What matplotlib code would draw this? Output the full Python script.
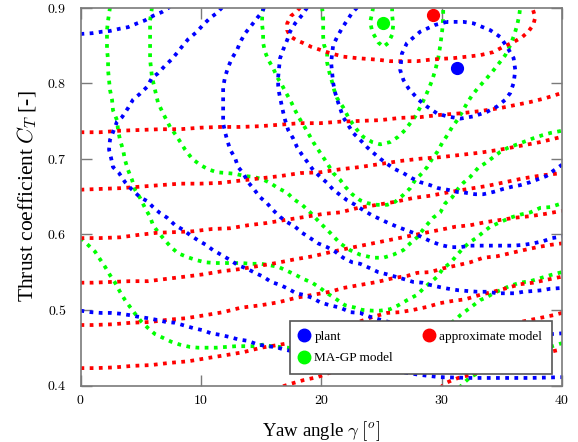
import matplotlib
matplotlib.use("Agg")
import matplotlib.pyplot as plt
from matplotlib.lines import Line2D

plt.rcParams['font.family'] = ['Liberation Serif', 'DejaVu Serif']
plt.rcParams['mathtext.fontset'] = 'cm'

# ---------------- data ----------------
x_ticks = [0, 10, 20, 30, 40]
x_tick_labels = ['$0$', '$10$', '$20$', '$30$', '$40$']
y_ticks = [0.4, 0.5, 0.6, 0.7, 0.8, 0.9]
y_tick_labels = ['$0.4$', '$0.5$', '$0.6$', '$0.7$', '$0.8$', '$0.9$']

series_names = ['plant', 'approximate model', 'MA-GP model']

# optimum points (yaw angle, thrust coefficient)
plant_opt = (31.25, 0.820)
approx_opt = (29.25, 0.890)
magp_opt = (25.1, 0.8795)

# ---- plant contours (blue) ----
plant_c1_yaw = [30.44, 29.47, 28.22, 27.12, 26.70, 26.56, 26.83, 27.25, 28.08, 28.78, 29.61, 30.44, 31.55, 32.65,
                33.77, 34.60, 35.29, 35.70, 35.98, 36.12, 35.98, 35.43, 34.87, 34.04, 32.65, 31.82, 30.44]
plant_c1_ct = [0.881, 0.877, 0.868, 0.853, 0.839, 0.817, 0.804, 0.793, 0.778, 0.769, 0.760, 0.756, 0.753, 0.756,
               0.762, 0.769, 0.778, 0.787, 0.800, 0.817, 0.833, 0.848, 0.861, 0.870, 0.879, 0.881, 0.881]

plant_c2_yaw = [0.0, 0.96, 1.79, 2.45, 3.28, 3.95, 4.70, 5.36, 6.03, 6.77, 7.27, 7.40]
plant_c2_ct = [0.865, 0.866, 0.868, 0.869, 0.872, 0.874, 0.879, 0.883, 0.889, 0.894, 0.899, 0.901]

plant_c3_yaw = [15.25, 15.09, 14.67, 14.09, 13.68, 13.26, 13.01, 12.59, 12.26, 12.01, 11.85, 11.85, 11.85, 11.85,
                11.85, 12.01, 12.18, 12.43, 12.84, 13.09, 13.51, 13.92, 14.34, 14.92, 15.50, 16.00, 16.58, 17.17,
                17.83, 18.41, 19.08, 19.74, 20.49, 21.16, 21.82, 22.57, 23.23, 24.07, 24.73, 25.48, 26.14, 26.81,
                27.64, 28.39, 29.05, 29.89, 30.55, 31.38, 32.13, 32.96, 33.79, 34.62, 35.29, 36.12, 36.78, 37.61,
                38.36, 39.03, 40.0]
plant_c3_ct = [0.900, 0.894, 0.886, 0.874, 0.866, 0.854, 0.844, 0.833, 0.821, 0.808, 0.795, 0.784, 0.771, 0.760,
               0.747, 0.735, 0.725, 0.712, 0.701, 0.689, 0.681, 0.669, 0.661, 0.649, 0.641, 0.632, 0.623, 0.616,
               0.610, 0.602, 0.595, 0.588, 0.583, 0.577, 0.569, 0.563, 0.561, 0.555, 0.550, 0.547, 0.544, 0.541,
               0.537, 0.536, 0.533, 0.530, 0.528, 0.526, 0.525, 0.524, 0.524, 0.522, 0.522, 0.522, 0.524, 0.525,
               0.526, 0.528, 0.529]

plant_c4_yaw = [22.98, 22.57, 22.15, 21.74, 21.32, 20.99, 20.91, 20.82, 20.91, 20.99, 21.16, 21.41, 21.82, 22.65,
                23.23, 23.82, 24.31, 24.90, 25.48, 26.14, 26.81, 27.56, 28.22, 29.05, 29.72, 30.47, 31.30, 31.96,
                32.79, 33.46, 34.29, 35.12, 35.87, 36.53, 37.37, 38.03, 38.70, 39.28, 40.0]
plant_c4_ct = [0.900, 0.893, 0.883, 0.873, 0.861, 0.850, 0.840, 0.827, 0.813, 0.800, 0.787, 0.774, 0.755, 0.734,
               0.725, 0.715, 0.708, 0.700, 0.693, 0.686, 0.681, 0.674, 0.669, 0.665, 0.661, 0.659, 0.656, 0.655,
               0.653, 0.653, 0.656, 0.660, 0.663, 0.665, 0.669, 0.673, 0.677, 0.684, 0.692]

plant_c5_yaw = [18.83, 18.41, 17.83, 17.41, 17.17, 16.83, 16.58, 16.50, 16.42, 16.42, 16.50, 16.67, 16.83, 17.00,
                17.25, 17.66, 18.00, 18.41, 18.83, 19.33, 19.91, 20.49, 20.99, 21.57, 22.15, 22.82, 23.48, 24.23,
                24.90, 25.56, 26.31, 26.97, 27.64, 28.39, 29.05, 29.89, 30.72, 31.55, 32.38, 33.21, 34.04, 35.12,
                35.95, 36.78, 37.61, 38.45, 39.19, 40.0]
plant_c5_ct = [0.900, 0.890, 0.879, 0.868, 0.857, 0.844, 0.833, 0.821, 0.808, 0.797, 0.787, 0.774, 0.762, 0.751,
               0.738, 0.727, 0.715, 0.705, 0.696, 0.685, 0.676, 0.668, 0.659, 0.652, 0.645, 0.639, 0.632, 0.625,
               0.620, 0.615, 0.610, 0.606, 0.602, 0.596, 0.591, 0.586, 0.583, 0.583, 0.585, 0.585, 0.585, 0.585,
               0.585, 0.586, 0.588, 0.591, 0.595, 0.597]

plant_c6_yaw = [11.76, 11.35, 10.76, 10.18, 9.68, 8.94, 8.52, 8.02, 7.61, 7.02, 6.44, 5.94, 5.53, 4.95, 4.36,
                3.95, 3.45, 3.03, 2.70, 2.45, 2.37, 2.54, 2.70, 3.20, 3.70, 4.28, 4.95, 5.53, 6.03, 6.61, 7.19,
                7.86, 8.52, 9.10, 9.77, 10.43, 11.01, 11.68, 12.43, 13.09, 13.76, 14.50, 15.17, 15.84, 16.58,
                17.25, 17.91, 18.50, 19.24, 19.91, 20.74, 21.57, 22.40, 23.23, 23.82, 24.90, 26.56, 28.22, 29.89,
                31.55, 33.21, 34.87, 36.53, 38.20, 40.0]
plant_c6_ct = [0.900, 0.893, 0.886, 0.877, 0.868, 0.858, 0.850, 0.840, 0.832, 0.823, 0.813, 0.807, 0.795, 0.786,
               0.778, 0.767, 0.755, 0.749, 0.735, 0.725, 0.712, 0.701, 0.689, 0.681, 0.669, 0.659, 0.649, 0.644,
               0.636, 0.628, 0.622, 0.612, 0.606, 0.599, 0.592, 0.586, 0.579, 0.573, 0.566, 0.559, 0.555, 0.549,
               0.544, 0.537, 0.533, 0.528, 0.522, 0.520, 0.516, 0.510, 0.506, 0.503, 0.497, 0.496, 0.492, 0.487,
               0.480, 0.475, 0.471, 0.468, 0.465, 0.465, 0.465, 0.467, 0.469]

plant_c7_yaw = [0.0, 0.87, 1.70, 2.54, 3.28, 4.11, 4.78, 5.61, 6.28, 7.11, 7.86, 8.69, 9.35, 10.18, 10.85, 11.60,
                12.43, 13.09, 13.92, 14.59, 15.42, 16.17, 16.83, 18.25, 20.74, 23.23, 25.73, 28.22, 29.89, 32.38,
                34.87, 37.37, 40.0]
plant_c7_ct = [0.499, 0.497, 0.496, 0.496, 0.495, 0.493, 0.491, 0.489, 0.487, 0.484, 0.483, 0.479, 0.476, 0.473,
               0.469, 0.467, 0.464, 0.461, 0.459, 0.455, 0.452, 0.451, 0.448, 0.443, 0.434, 0.426, 0.420, 0.414,
               0.411, 0.410, 0.410, 0.410, 0.411]

# ---- approximate model contours (red) ----
approx_c1_yaw = [18.25, 17.91, 17.50, 17.17, 17.17, 17.41, 17.91, 18.50, 19.16, 19.91, 20.66, 21.82, 22.98, 23.82,
                 24.65, 25.73, 26.81, 27.97, 29.05, 29.89, 30.96, 32.13, 33.21, 34.29, 35.12, 35.95, 36.70, 37.20,
                 37.61, 37.78, 37.53]
approx_c1_ct = [0.900, 0.894, 0.889, 0.879, 0.870, 0.862, 0.857, 0.853, 0.848, 0.844, 0.840, 0.835, 0.833, 0.832,
                0.831, 0.829, 0.829, 0.829, 0.831, 0.832, 0.833, 0.835, 0.837, 0.841, 0.848, 0.854, 0.861, 0.868,
                0.877, 0.887, 0.900]

approx_c2_yaw = [0.0, 1.62, 3.28, 4.95, 6.61, 8.27, 9.93, 11.60, 13.26, 14.92, 16.58, 18.25, 19.91, 21.57, 23.23,
                 24.90, 26.56, 28.22, 29.89, 31.55, 33.21, 34.87, 36.12, 37.37, 38.61, 40.0]
approx_c2_ct = [0.735, 0.735, 0.737, 0.738, 0.739, 0.739, 0.741, 0.742, 0.742, 0.743, 0.745, 0.747, 0.747, 0.749,
                0.750, 0.751, 0.754, 0.755, 0.758, 0.760, 0.763, 0.767, 0.771, 0.775, 0.780, 0.787]

approx_c3_yaw = [0.0, 1.62, 3.28, 4.95, 6.61, 8.27, 9.93, 11.60, 13.26, 14.92, 16.58, 18.25, 19.91, 21.57, 23.23,
                 24.90, 26.56, 28.22, 29.89, 31.55, 33.21, 34.87, 36.53, 38.20, 40.0]
approx_c3_ct = [0.659, 0.660, 0.661, 0.663, 0.665, 0.667, 0.667, 0.668, 0.671, 0.674, 0.677, 0.681, 0.682, 0.686,
                0.689, 0.693, 0.697, 0.700, 0.702, 0.705, 0.708, 0.712, 0.717, 0.722, 0.729]

approx_c4_yaw = [0.0, 1.62, 3.28, 4.70, 6.36, 8.02, 9.35, 10.93, 12.43, 13.92, 15.50, 17.00, 18.66, 20.16, 21.57,
                 23.07, 24.65, 26.14, 27.64, 29.05, 30.72, 32.21, 33.79, 35.29, 36.78, 38.36, 40.0]
approx_c4_ct = [0.595, 0.595, 0.596, 0.599, 0.602, 0.603, 0.604, 0.607, 0.608, 0.612, 0.615, 0.619, 0.623, 0.627,
                0.629, 0.635, 0.639, 0.643, 0.648, 0.651, 0.656, 0.660, 0.664, 0.669, 0.674, 0.678, 0.681]

approx_c5_yaw = [0.0, 1.04, 2.54, 4.11, 5.61, 7.11, 8.69, 10.18, 11.68, 13.26, 14.75, 16.25, 17.83, 19.33, 20.91,
                 22.40, 23.65, 24.90, 26.14, 27.39, 28.64, 29.89, 31.13, 32.38, 33.62, 34.87, 36.12, 37.37, 38.61,
                 40.0]
approx_c5_ct = [0.536, 0.536, 0.537, 0.538, 0.538, 0.541, 0.544, 0.547, 0.551, 0.554, 0.558, 0.562, 0.567, 0.571,
                0.577, 0.582, 0.586, 0.590, 0.594, 0.598, 0.602, 0.606, 0.610, 0.612, 0.616, 0.619, 0.622, 0.624,
                0.627, 0.631]

approx_c6_yaw = [0.0, 1.04, 2.70, 4.20, 5.78, 7.27, 8.77, 10.35, 11.85, 13.34, 14.92, 16.42, 17.91, 20.74, 21.82,
                 23.23, 24.65, 25.98, 27.14, 27.97, 29.05, 30.13, 31.30, 32.38, 33.46, 34.62, 35.70, 36.78, 37.95,
                 39.03, 40.0]
approx_c6_ct = [0.480, 0.480, 0.481, 0.483, 0.484, 0.487, 0.489, 0.493, 0.497, 0.503, 0.506, 0.510, 0.516, 0.524,
                0.529, 0.533, 0.537, 0.542, 0.545, 0.549, 0.550, 0.555, 0.559, 0.563, 0.569, 0.571, 0.575, 0.579,
                0.583, 0.586, 0.588]

approx_c7_yaw = [0.0, 1.29, 2.87, 4.36, 5.86, 7.44, 8.94, 10.43, 12.01, 13.51, 15.00, 16.58, 17.25, 19.08, 20.74,
                 22.40, 24.31, 25.48, 26.56, 27.64, 28.80, 29.89, 30.96, 31.96, 33.21, 34.29, 35.45, 36.53, 37.61,
                 38.78, 40.0]
approx_c7_ct = [0.423, 0.423, 0.424, 0.426, 0.427, 0.430, 0.432, 0.436, 0.440, 0.444, 0.450, 0.454, 0.456, 0.464,
                0.472, 0.480, 0.491, 0.496, 0.497, 0.500, 0.504, 0.509, 0.512, 0.514, 0.520, 0.524, 0.529, 0.534,
                0.536, 0.540, 0.544]

approx_c8_yaw = [16.83, 17.41, 18.50, 19.66, 20.74, 23.23, 26.56, 29.89, 33.21, 36.53, 39.28, 40.0]
approx_c8_ct = [0.399, 0.402, 0.407, 0.411, 0.417, 0.427, 0.442, 0.456, 0.471, 0.484, 0.493, 0.496]

approx_c9_yaw = [29.89, 30.30, 30.88, 31.38, 32.13, 34.04, 36.53, 38.61, 40.0]
approx_c9_ct = [0.397, 0.403, 0.407, 0.410, 0.413, 0.422, 0.434, 0.443, 0.448]

# ---- MA-GP model contours (green) ----
magp_c1_yaw = [24.31, 24.23, 24.07, 24.23, 24.73, 25.15, 25.56, 25.89, 25.98, 25.89, 25.89]
magp_c1_ct = [0.900, 0.893, 0.881, 0.868, 0.854, 0.848, 0.853, 0.864, 0.877, 0.890, 0.900]

magp_c2_yaw = [20.07, 20.16, 20.16, 20.16, 20.24, 20.49, 20.49, 20.66, 20.91, 21.07, 21.32, 21.82, 22.24, 22.57,
               22.98, 23.48, 24.23, 24.90, 25.73, 26.39, 26.97, 27.39, 27.81, 28.22, 28.64, 28.89, 29.22, 29.47,
               29.72, 29.89, 30.05, 30.13, 30.13]
magp_c2_ct = [0.900, 0.887, 0.874, 0.861, 0.850, 0.840, 0.827, 0.815, 0.801, 0.791, 0.780, 0.768, 0.755, 0.747,
              0.738, 0.729, 0.722, 0.719, 0.722, 0.729, 0.738, 0.747, 0.756, 0.768, 0.782, 0.791, 0.804, 0.817,
              0.833, 0.850, 0.870, 0.887, 0.900]

magp_c3_yaw = [15.17, 15.09, 15.09, 15.17, 15.17, 15.34, 15.59, 16.00, 16.33, 16.75, 17.08, 17.50, 17.83, 18.16,
               18.58, 18.91, 19.33, 19.66, 20.16, 20.57, 20.99, 21.57, 21.99, 22.57, 23.23, 23.90, 24.65, 25.48,
               26.14, 26.81, 27.39, 27.81, 28.39, 28.80, 29.22, 29.64, 30.05, 30.47, 30.88, 31.30, 31.71, 32.13,
               32.54, 33.04, 33.62, 34.21, 34.71, 35.29, 35.70, 36.04, 36.28, 36.45, 36.53]
magp_c3_ct = [0.900, 0.887, 0.877, 0.866, 0.853, 0.841, 0.831, 0.820, 0.808, 0.797, 0.787, 0.775, 0.764, 0.754,
              0.743, 0.734, 0.722, 0.714, 0.702, 0.692, 0.681, 0.672, 0.663, 0.653, 0.645, 0.641, 0.639, 0.639,
              0.643, 0.652, 0.661, 0.672, 0.681, 0.689, 0.700, 0.709, 0.721, 0.731, 0.742, 0.751, 0.762, 0.774,
              0.784, 0.794, 0.804, 0.815, 0.825, 0.837, 0.850, 0.864, 0.877, 0.890, 0.900]

magp_c4_yaw = [5.94, 5.78, 5.78, 5.78, 5.78, 5.94, 6.19, 6.44, 6.86, 7.44, 8.02, 8.69, 9.27, 9.93, 10.60, 11.35,
               12.18, 12.84, 13.68, 14.34, 15.09, 15.75, 16.42, 17.17, 17.66, 18.41, 19.08, 19.91, 20.74, 21.57,
               22.40, 23.23, 24.31, 25.15, 25.98, 26.81, 27.39, 27.97, 28.64, 29.30, 29.89, 30.30, 30.88, 31.30,
               31.80, 32.38, 33.04, 33.62, 34.21, 34.87, 35.45, 36.12, 36.78, 37.61, 38.36, 39.03, 40.0]
magp_c4_ct = [0.900, 0.883, 0.866, 0.848, 0.831, 0.808, 0.791, 0.774, 0.760, 0.742, 0.729, 0.712, 0.700, 0.692,
              0.686, 0.682, 0.681, 0.680, 0.677, 0.676, 0.673, 0.668, 0.661, 0.655, 0.647, 0.639, 0.629, 0.615,
              0.602, 0.588, 0.579, 0.573, 0.569, 0.569, 0.573, 0.579, 0.588, 0.596, 0.610, 0.622, 0.629, 0.641,
              0.649, 0.659, 0.668, 0.676, 0.688, 0.694, 0.701, 0.709, 0.714, 0.718, 0.722, 0.727, 0.731, 0.734,
              0.737]

magp_c5_yaw = [2.45, 2.29, 2.20, 2.20, 2.20, 2.29, 2.29, 2.37, 2.45, 2.62, 2.70, 3.03, 3.12, 3.28, 3.53, 3.70,
               3.95, 4.28, 4.53, 4.95, 5.36, 5.78, 6.03, 6.44, 7.02, 7.52, 8.10, 8.85, 9.60, 10.35, 11.18, 11.85,
               12.68, 13.34, 14.17, 15.00, 15.75, 16.42, 17.25, 17.91, 18.50, 19.24, 19.91, 20.49, 20.99, 21.99,
               22.82, 23.40, 24.23, 24.90, 25.73, 26.39, 27.14, 27.97, 28.47, 29.05, 29.64, 30.13, 30.72, 31.30,
               31.80, 32.38, 32.96, 33.46, 34.04, 34.87, 35.70, 36.53, 37.37, 38.20, 39.03, 40.0]
magp_c5_ct = [0.900, 0.883, 0.870, 0.857, 0.844, 0.831, 0.817, 0.804, 0.791, 0.778, 0.764, 0.751, 0.738, 0.725,
              0.712, 0.698, 0.685, 0.672, 0.659, 0.648, 0.635, 0.623, 0.612, 0.603, 0.592, 0.583, 0.575, 0.570,
              0.566, 0.563, 0.562, 0.562, 0.562, 0.562, 0.561, 0.561, 0.559, 0.557, 0.551, 0.546, 0.541, 0.536,
              0.529, 0.522, 0.517, 0.506, 0.503, 0.500, 0.499, 0.499, 0.501, 0.506, 0.513, 0.520, 0.528, 0.536,
              0.544, 0.555, 0.562, 0.573, 0.582, 0.590, 0.596, 0.603, 0.610, 0.616, 0.622, 0.626, 0.629, 0.635,
              0.636, 0.641]

magp_c6_yaw = [0.0, 0.62, 1.21, 1.62, 2.04, 2.45, 2.87, 3.28, 3.70, 4.11, 4.53, 5.03, 5.61, 6.19, 6.86, 7.52,
               8.27, 9.10, 9.77, 10.60, 11.26, 12.09, 12.93, 13.68, 14.34, 15.17, 15.84, 16.58, 17.25, 18.25,
               19.91, 21.57, 23.23, 24.90, 26.56, 28.22, 29.89, 31.30, 31.55, 32.13, 32.63, 33.21, 33.79, 34.29,
               34.87, 35.70, 36.53, 37.37, 38.20, 39.03, 40.0]
magp_c6_ct = [0.595, 0.586, 0.577, 0.567, 0.557, 0.546, 0.536, 0.524, 0.513, 0.504, 0.495, 0.485, 0.476, 0.468,
              0.463, 0.458, 0.454, 0.451, 0.450, 0.450, 0.450, 0.451, 0.452, 0.452, 0.452, 0.454, 0.452, 0.451,
              0.450, 0.446, 0.440, 0.436, 0.434, 0.435, 0.444, 0.456, 0.472, 0.489, 0.493, 0.500, 0.506, 0.513,
              0.517, 0.522, 0.526, 0.532, 0.536, 0.538, 0.542, 0.546, 0.550]

magp_c7_yaw = [31.46, 31.96, 32.38, 33.21, 34.87, 36.53, 38.20, 40.0]
magp_c7_ct = [0.397, 0.405, 0.411, 0.418, 0.427, 0.438, 0.447, 0.456]

plant_contours = [(plant_c1_yaw, plant_c1_ct), (plant_c2_yaw, plant_c2_ct), (plant_c3_yaw, plant_c3_ct),
                  (plant_c4_yaw, plant_c4_ct), (plant_c5_yaw, plant_c5_ct), (plant_c6_yaw, plant_c6_ct),
                  (plant_c7_yaw, plant_c7_ct)]
approx_contours = [(approx_c1_yaw, approx_c1_ct), (approx_c2_yaw, approx_c2_ct), (approx_c3_yaw, approx_c3_ct),
                   (approx_c4_yaw, approx_c4_ct), (approx_c5_yaw, approx_c5_ct), (approx_c6_yaw, approx_c6_ct),
                   (approx_c7_yaw, approx_c7_ct), (approx_c8_yaw, approx_c8_ct), (approx_c9_yaw, approx_c9_ct)]
magp_contours = [(magp_c1_yaw, magp_c1_ct), (magp_c2_yaw, magp_c2_ct), (magp_c3_yaw, magp_c3_ct),
                 (magp_c4_yaw, magp_c4_ct), (magp_c5_yaw, magp_c5_ct), (magp_c6_yaw, magp_c6_ct),
                 (magp_c7_yaw, magp_c7_ct)]

BLUE, RED, GREEN = '#0000ff', '#ff0000', '#00ff00'
GRAY = '#7a7a7a'

# ---------------- figure ----------------
fig = plt.figure(figsize=(5.78, 4.42), dpi=100)
ax = fig.add_axes([80.5 / 578, 1 - 385.5 / 442, (562 - 80.5) / 578, (385.5 - 7.5) / 442])

dot = (0, (1, 1.45))
lw = 2.7
for xs, ys in magp_contours:
    ax.plot(xs, ys, color=GREEN, lw=lw, linestyle=dot, zorder=2)
for xs, ys in approx_contours:
    ax.plot(xs, ys, color=RED, lw=lw, linestyle=dot, zorder=2)
for xs, ys in plant_contours:
    ax.plot(xs, ys, color=BLUE, lw=lw, linestyle=dot, zorder=2)

ms = 8.5
ax.plot([plant_opt[0]], [plant_opt[1]], 'o', color=BLUE, ms=ms, zorder=4)
ax.plot([approx_opt[0]], [approx_opt[1]], 'o', color=RED, ms=ms, zorder=4)
ax.plot([magp_opt[0]], [magp_opt[1]], 'o', color=GREEN, ms=ms, zorder=4)

ax.set_xlim(0, 40)
ax.set_ylim(0.4, 0.9)
ax.set_xticks(x_ticks, labels=x_tick_labels)
ax.set_yticks(y_ticks, labels=y_tick_labels)
ax.tick_params(direction='in', length=8, width=1.0, color=GRAY, top=True, right=True,
               labelsize=10, pad=6)
ax.tick_params(axis='y', pad=10)
for s in ax.spines.values():
    s.set_color(GRAY)
    s.set_linewidth(1.2)

ax.set_xlabel('Yaw angle $\\gamma$ $[^o]$', fontsize=13.5, labelpad=9)
ax.set_ylabel('Thrust coefficient $C_T$ [-]', fontsize=15.5, labelpad=6)

handles = [Line2D([], [], marker='o', ls='none', color=BLUE, ms=9),
           Line2D([], [], marker='o', ls='none', color=GREEN, ms=9),
           Line2D([], [], marker='o', ls='none', color=RED, ms=9)]
labels = [series_names[0], series_names[2], series_names[1]]
leg = ax.legend(handles, labels, ncol=2, loc='lower left',
                bbox_to_anchor=(0.435, 0.030, 0.544, 0.151), mode='expand',
                fontsize=9.5, frameon=True, fancybox=False, framealpha=1,
                edgecolor='#555555', handlelength=0.7, handletextpad=0.4,
                borderpad=0.75, labelspacing=0.7, borderaxespad=0)
leg.get_frame().set_linewidth(1.2)
leg.set_zorder(5)

fig.savefig('out.png', dpi=100)
